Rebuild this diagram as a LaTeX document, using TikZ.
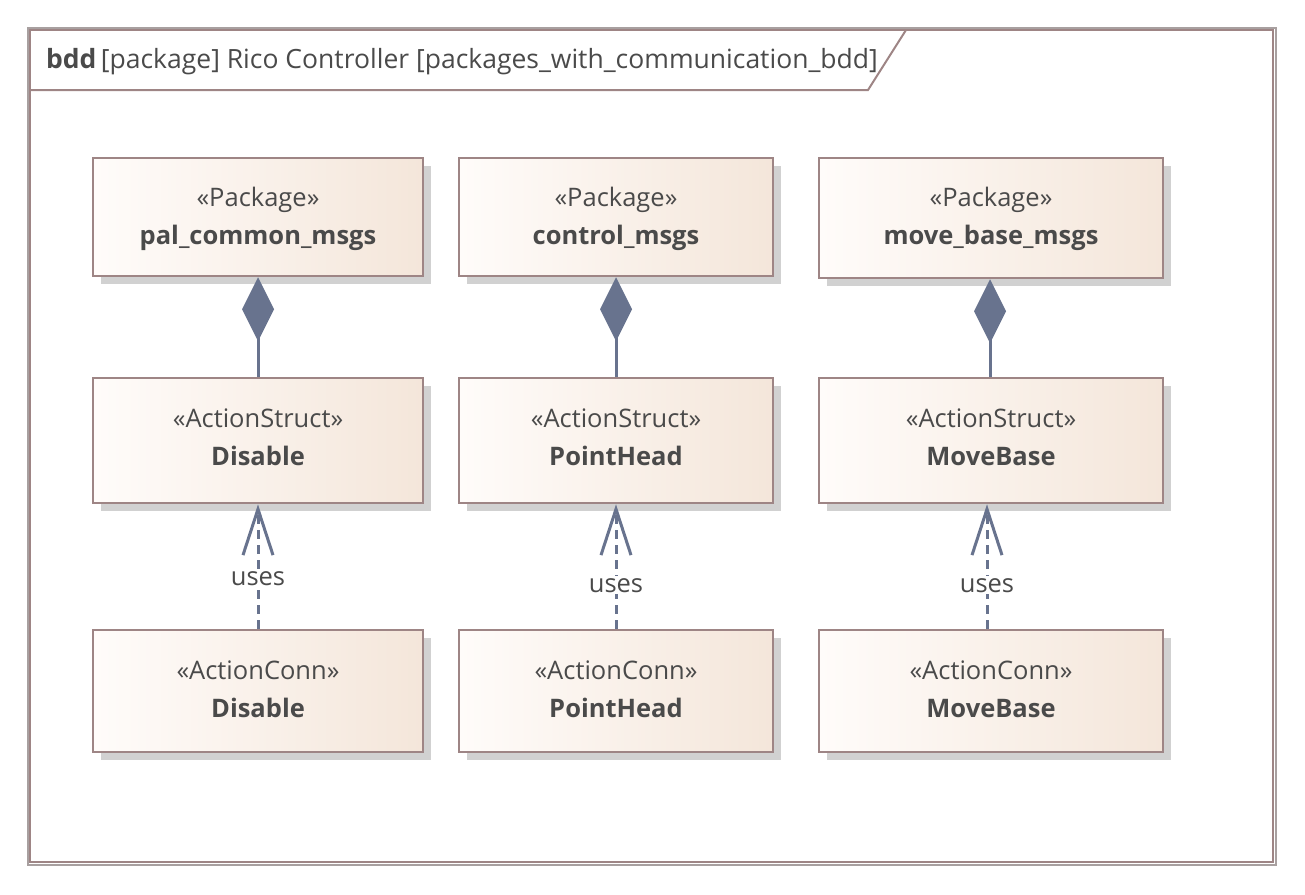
\documentclass[tikz,border=0pt]{standalone}
\usepackage{fontspec}
\setmainfont{Open Sans}
\usetikzlibrary{arrows.meta,shadows}
\definecolor{bord}{HTML}{9E8585}
\definecolor{frameg}{HTML}{A8A0A0}
\definecolor{conn}{HTML}{68738E}
\definecolor{txt}{HTML}{4A4A4A}
\definecolor{fillL}{HTML}{FFFCFA}
\definecolor{fillR}{HTML}{F4E6DA}
\begin{document}
\begin{tikzpicture}[x=1pt,y=-1pt,
  box/.style={draw=bord, line width=2.5pt, left color=fillL, right color=fillR,
    drop shadow={shadow xshift=8pt, shadow yshift=-8pt, fill=black!18, opacity=1},
    inner sep=0pt},
  boxtext/.style={inner sep=0pt, align=center, text=txt, font=\fontsize{25.5}{38.5}\selectfont},
  comp/.style={draw=conn, line width=3pt, -{Diamond[length=64pt,width=32pt,fill=conn]}},
  dep/.style={draw=conn, line width=3pt, dash pattern=on 9pt off 6pt,
    -{Straight Barb[length=46pt,width=30pt,line width=3pt]}},
  lbl/.style={fill=white, text=txt, inner sep=2pt, font=\fontsize{25.5}{28}\selectfont}]
\useasboundingbox (0,0) rectangle (1305,894);
% frame
\draw[frameg, line width=2pt] (28,28) rectangle (1276,865);
\draw[bord, line width=2pt] (30,30) rectangle (1273,862);
\draw[bord, line width=2pt] (30,90) -- (868,90) -- (906,30);
\node[anchor=base west, inner sep=0pt, text=txt, font=\fontsize{26.5}{28}\selectfont] (title) at (46,68)
  {\textbf{bdd}\,[package] Rico Controller [packages\_with\_communication\_bdd]};
% row 1
\node[box, minimum width=330pt, minimum height=118pt] (p1) at (258,217) {};
\node[box, minimum width=314pt, minimum height=118pt] (p2) at (616,217) {};
\node[box, minimum width=344pt, minimum height=120pt] (p3) at (991,218) {};
\node[boxtext] (p1t) at (258,219) {«Package»\\\textbf{pal\_common\_msgs}};
\node[boxtext] (p2t) at (616,219) {«Package»\\\textbf{control\_msgs}};
\node[boxtext] (p3t) at (991,219) {«Package»\\\textbf{move\_base\_msgs}};
% row 2
\node[box, minimum width=330pt, minimum height=125pt] (s1) at (258,440.5) {};
\node[box, minimum width=314pt, minimum height=125pt] (s2) at (616,440.5) {};
\node[box, minimum width=344pt, minimum height=125pt] (s3) at (991,440.5) {};
\node[boxtext] (s1t) at (258,437.5) {«ActionStruct»\\\textbf{Disable}};
\node[boxtext] (s2t) at (616,437.5) {«ActionStruct»\\\textbf{PointHead}};
\node[boxtext] (s3t) at (991,437.5) {«ActionStruct»\\\textbf{MoveBase}};
% row 3
\node[box, minimum width=330pt, minimum height=122pt] (c1) at (258,691) {};
\node[box, minimum width=314pt, minimum height=122pt] (c2) at (616,691) {};
\node[box, minimum width=344pt, minimum height=122pt] (c3) at (991,691) {};
\node[boxtext] (c1t) at (258,689.5) {«ActionConn»\\\textbf{Disable}};
\node[boxtext] (c2t) at (616,689.5) {«ActionConn»\\\textbf{PointHead}};
\node[boxtext] (c3t) at (991,689.5) {«ActionConn»\\\textbf{MoveBase}};
% composition
\draw[comp] (s1.north) -- (p1.south);
\draw[comp] (s2.north) -- (p2.south);
\draw[comp] ([xshift=-1pt]s3.north) -- ([xshift=-1pt]p3.south);
% dependencies
\draw[dep] (c1.north) -- node[lbl, pos=0.4] {uses} (s1.south);
\draw[dep] (c2.north) -- node[lbl, pos=0.35] {uses} (s2.south);
\draw[dep] ([xshift=-4pt]c3.north) -- node[lbl, pos=0.35] {uses} ([xshift=-4pt]s3.south);
\end{tikzpicture}
\end{document}
